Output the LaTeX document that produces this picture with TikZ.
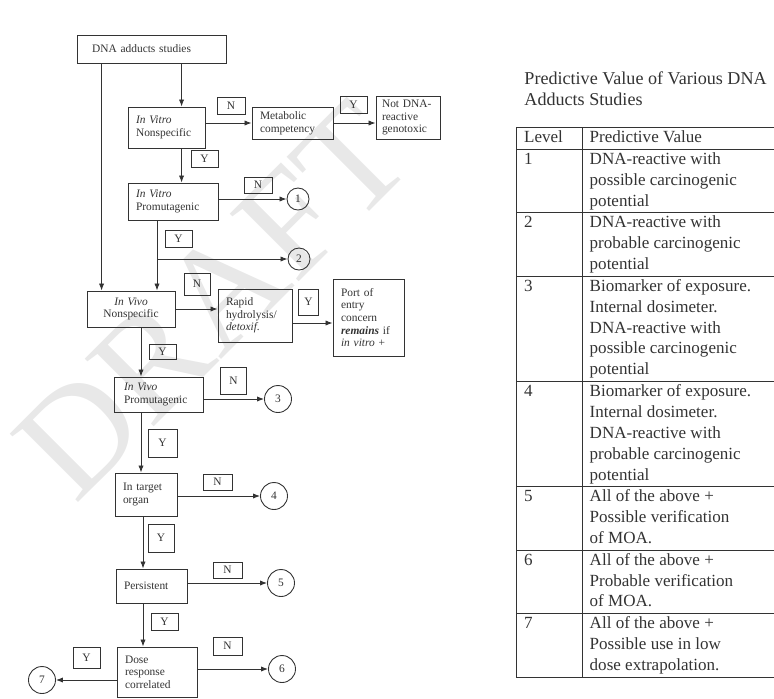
\documentclass[tikz,border=0pt]{standalone}
\usepackage{fontspec}
\setmainfont{Liberation Serif}
\usepackage{array}
\usetikzlibrary{arrows.meta}

\newcommand{\flowfont}{\fontsize{6.5}{7.2}\selectfont}
\newcommand{\tablefont}{\fontsize{9.7}{11.9}\selectfont}
\newcommand{\titlefont}{\fontsize{10.3}{11.9}\selectfont}

\begin{document}
\begin{tikzpicture}[x = 0.02cm, y = -0.02cm, color = black!80, line width = 0.5pt,
  >= {Latex[length = 4pt, width = 3pt]},
  stagebox/.style = {rectangle, draw, align = left, inner xsep = 0.16cm, inner ysep = 0pt, font = \flowfont},
  answer/.style = {rectangle, draw, inner sep = 0pt, font = \flowfont},
  level/.style = {circle, draw, inner sep = 0pt, minimum size = 0.54cm, font = \flowfont}]

\useasboundingbox (0, 0) rectangle (774, 698);


%%% watermark
\node (draft) [rotate = 45, text = black!9, font = \fontsize{84}{84}\selectfont] at (212, 300) {DRAFT};


%%% Flow chart

\node (dna) [stagebox, inner xsep = 0.3cm, minimum width = 2.98cm, minimum height = 0.56cm, text width = 2.38cm] at (151.5, 49) {DNA adducts studies};

\node (ivtns) [stagebox, minimum width = 1.54cm, minimum height = 0.82cm, text width = 1.22cm] at (166.5, 127.5) {\textit{In Vitro}\\ Nonspecific};

\node (metab) [stagebox, minimum width = 1.62cm, minimum height = 0.64cm, text width = 1.30cm] at (292.5, 123) {Metabolic\\ competency};

\node (notdna) [stagebox, inner xsep = 0.12cm, minimum width = 1.28cm, minimum height = 0.86cm, text width = 1.04cm] at (408, 117.5) {Not DNA-\\ reactive\\ genotoxic};

\node (ivtpro) [stagebox, minimum width = 1.80cm, minimum height = 0.74cm, text width = 1.48cm] at (173, 201.5) {\textit{In Vitro}\\ Promutagenic};

\node (ivvns) [stagebox, align = center, minimum width = 1.76cm, minimum height = 0.72cm, text width = 1.44cm] at (131, 309) {\textit{In Vivo}\\ Nonspecific};

\node (rapid) [stagebox, minimum width = 1.48cm, minimum height = 1.06cm, text width = 1.16cm] at (255, 315.5) {Rapid\\ hydrolysis/\\ \textit{detoxif.}};

\node (port) [stagebox, minimum width = 1.42cm, minimum height = 1.54cm, text width = 1.10cm] at (368.5, 317.5) {Port of\\ entry\\ concern\\ \textbf{\textit{remains}} if\\ \textit{in vitro} +};

\node (ivvpro) [stagebox, inner xsep = 0.2cm, minimum width = 1.78cm, minimum height = 0.70cm, text width = 1.38cm] at (158.5, 394.5) {\textit{In Vivo}\\ Promutagenic};

\node (organ) [stagebox, minimum width = 1.24cm, minimum height = 0.86cm, text width = 0.92cm] at (146, 494.5) {In target\\ organ};

\node (persist) [stagebox, minimum width = 1.42cm, minimum height = 0.68cm, text width = 1.10cm] at (151.5, 586) {Persistent};

\node (dose) [stagebox, minimum width = 1.60cm, minimum height = 1.00cm, text width = 1.28cm] at (157, 672) {Dose\\ response\\ correlated};


%%% levels
\node (c1) [level, minimum size = 0.44cm] at (298, 199) {1};
\node (c2) [level, minimum size = 0.44cm] at (299, 259) {2};
\node (c3) [level] at (278, 399) {3};
\node (c4) [level] at (274, 496) {4};
\node (c5) [level] at (281, 583) {5};
\node (c6) [level] at (282, 669) {6};
\node (c7) [level] at (42, 680) {7};


%%% Y / N answers
\node (n1) [answer, minimum width = 0.56cm, minimum height = 0.34cm] at (231, 105.5) {N};
\node (y1) [answer, minimum width = 0.54cm, minimum height = 0.34cm] at (353.5, 104.5) {Y};
\node (y2) [answer, minimum width = 0.54cm, minimum height = 0.34cm] at (204.5, 158.5) {Y};
\node (n2) [answer, minimum width = 0.56cm, minimum height = 0.32cm] at (258, 185) {N};
\node (y3) [answer, minimum width = 0.54cm, minimum height = 0.34cm] at (178.5, 238.5) {Y};
\node (n3) [answer, minimum width = 0.52cm, minimum height = 0.44cm] at (197, 284) {N};
\node (y4) [answer, minimum width = 0.40cm, minimum height = 0.52cm] at (308.5, 302) {Y};
\node (y5) [answer, minimum width = 0.54cm, minimum height = 0.30cm] at (162.5, 351.5) {Y};
\node (n4) [answer, minimum width = 0.52cm, minimum height = 0.54cm] at (233.5, 380.5) {N};
\node (y6) [answer, minimum width = 0.58cm, minimum height = 0.56cm] at (162.5, 443) {Y};
\node (n5) [answer, minimum width = 0.58cm, minimum height = 0.32cm] at (217.5, 482) {N};
\node (y7) [answer, minimum width = 0.52cm, minimum height = 0.56cm] at (161, 538) {Y};
\node (n6) [answer, minimum width = 0.58cm, minimum height = 0.32cm] at (227.5, 570) {N};
\node (y8) [answer, minimum width = 0.54cm, minimum height = 0.34cm] at (164.5, 621.5) {Y};
\node (n7) [answer, minimum width = 0.58cm, minimum height = 0.36cm] at (227.5, 646) {N};
\node (y9) [answer, minimum width = 0.54cm, minimum height = 0.42cm] at (86.5, 657.5) {Y};


%%% connectors
\coordinate (dnaleft) at ([xshift = 0.5cm] dna.south west);
\coordinate (dnaright) at ([xshift = 2.1cm] dna.south west);
\coordinate (vtsplit) at ([xshift = -0.32cm] ivtpro.south);
\coordinate (vvspine) at ([xshift = 0.2cm] ivvns.south);
\coordinate (lowspine) at ([xshift = -0.06cm] organ.south);
\coordinate (rapidout) at ([yshift = -0.15cm] rapid.east);

\draw[->] (dnaleft) -- (dnaleft |- ivvns.north);
\draw[->] (dnaright) -- (dnaright |- ivtns.north);
\draw[->] (dnaright |- ivtns.south) -- (dnaright |- ivtpro.north);

\draw[->] (ivtns.east |- metab.west) -- (metab.west);
\draw[->] (metab.east) -- (metab.east -| notdna.west);

\draw[->] (ivtpro.east |- c1) -- (c1);
\draw[->] (vtsplit) -- (vtsplit |- ivvns.north);
\draw[->] (vtsplit |- c2) -- (c2);

\draw[->] (ivvns.east) -- (ivvns.east -| rapid.west);
\draw[->] (rapidout) -- (rapidout -| port.west);

\draw[->] (vvspine) -- (vvspine |- ivvpro.north);
\draw[->] (ivvpro.east |- c3) -- (c3);
\draw[->] (vvspine |- ivvpro.south) -- (vvspine |- organ.north);
\draw[->] (organ.east |- c4) -- (c4);

\draw[->] (lowspine) -- (lowspine |- persist.north);
\draw[->] (persist.east |- c5) -- (c5);
\draw[->] (lowspine |- persist.south) -- (lowspine |- dose.north);
\draw[->] (dose.east |- c6) -- (c6);
\draw[->] (dose.west |- c7) -- (c7);


%%% Table of levels
\node (title) [anchor = north west, inner sep = 0pt, align = left, font = \titlefont] at (524, 71) {Predictive Value of Various DNA\\ Adducts Studies};

\node (levels) [anchor = north west, inner sep = 0pt, font = \tablefont] at (516, 127) {%
\setlength{\tabcolsep}{4pt}%
\begin{tabular}{|>{\raggedright\arraybackslash}p{28.9pt}|>{\raggedright\arraybackslash}p{102pt}}
\hline
Level & Predictive Value \\ \hline
1 & DNA-reactive with\newline possible carcinogenic\newline potential \\ \hline
2 & DNA-reactive with\newline probable carcinogenic\newline potential \\ \hline
3 & Biomarker of exposure.\newline Internal dosimeter.\newline DNA-reactive with\newline possible carcinogenic\newline potential \\ \hline
4 & Biomarker of exposure.\newline Internal dosimeter.\newline DNA-reactive with\newline probable carcinogenic\newline potential \\ \hline
5 & All of the above +\newline Possible verification\newline of MOA. \\ \hline
6 & All of the above +\newline Probable verification\newline of MOA. \\ \hline
7 & All of the above +\newline Possible use in low\newline dose extrapolation. \\ \hline
\end{tabular}};

\end{tikzpicture}
\end{document}
